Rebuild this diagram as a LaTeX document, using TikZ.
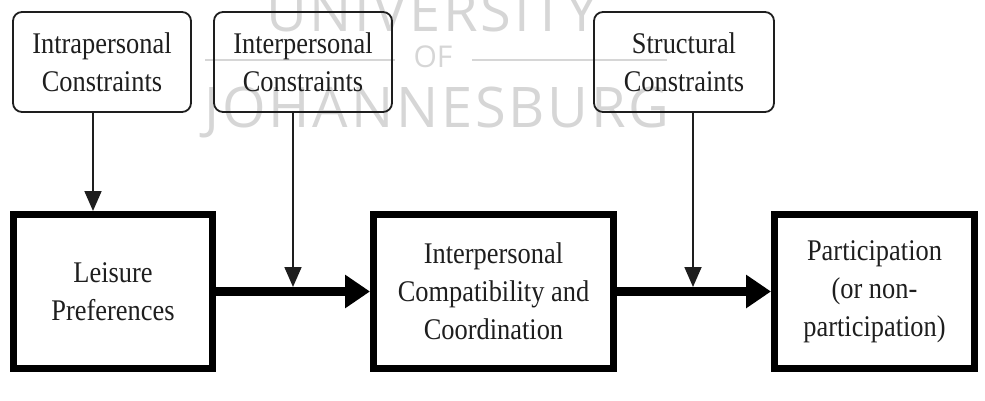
\documentclass[tikz,border=0pt]{standalone}
\usepackage{fontspec}
\setmainfont{Liberation Serif}[FakeStretch=0.88]
\newfontfamily\wmfont{Open Sans}[LetterSpace=5]
\newfontfamily\wmfontb{Open Sans}
\usetikzlibrary{arrows.meta}
\definecolor{wmgray}{HTML}{D6D6D6}
\definecolor{ink}{HTML}{1E1E1E}
\begin{document}
\begin{tikzpicture}[x=1pt,y=-1pt,
  cbox/.style={draw=ink, line width=1.8pt, rounded corners=9pt, minimum width=178pt, minimum height=100pt,
    inner sep=0pt, align=center, text=ink, font=\fontsize{30}{38}\selectfont},
  mbox/.style={draw=black, line width=7pt, minimum height=154pt,
    inner sep=0pt, align=center, text=ink, font=\fontsize{30}{38}\selectfont},
  thinarrow/.style={draw=ink, line width=1.8pt, -{Triangle[length=20pt,width=17pt]}},
  thickarrow/.style={draw=black, line width=9pt, -{Triangle[length=25pt,width=32pt]}},
  wm/.style={text=wmgray, inner sep=0pt, anchor=base}
]
\useasboundingbox (0,0) rectangle (985,401);
% watermark
\node[wm, font=\wmfont\fontsize{56}{56}\selectfont] (wmu) at (432,32) {UNIVERSITY};
\node[wm, font=\wmfontb\fontsize{30}{30}\selectfont] (wmo) at (433,68) {OF};
\node[wm, font=\wmfont\fontsize{56}{56}\selectfont] (wmj) at (437,128) {JOHANNESBURG};
\draw[wmgray, line width=2pt] (205,60) -- (395,60);
\draw[wmgray, line width=2pt] (472,60) -- (667,60);
% constraint boxes
\node[cbox] (c1) at (102,62) {Intrapersonal\\Constraints};
\node[cbox] (c2) at (303,62) {Interpersonal\\Constraints};
\node[cbox, minimum width=180pt] (c3) at (684,62) {Structural\\Constraints};
% main boxes
\node[mbox, minimum width=199pt] (b1) at (113,291.5) {Leisure\\Preferences};
\node[mbox, minimum width=240pt] (b2) at (493.5,291.5) {Interpersonal\\Compatibility and\\Coordination};
\node[mbox, minimum width=200pt] (b3) at (874.5,291.5) {Participation\\(or non-\\participation)};
% main arrows
\draw[thickarrow] (b1.east) -- (b2.west);
\draw[thickarrow] (b2.east) -- (b3.west);
% junction points on the main arrows
\coordinate (j1) at (293,287);
\coordinate (j2) at (693,287);
% constraint arrows
\draw[thinarrow] ([xshift=-9pt]c1.south) -- ([xshift=-20pt]b1.north);
\draw[thinarrow] ([xshift=-10pt]c2.south) -- (j1);
\draw[thinarrow] ([xshift=9pt]c3.south) -- (j2);
\end{tikzpicture}
\end{document}
